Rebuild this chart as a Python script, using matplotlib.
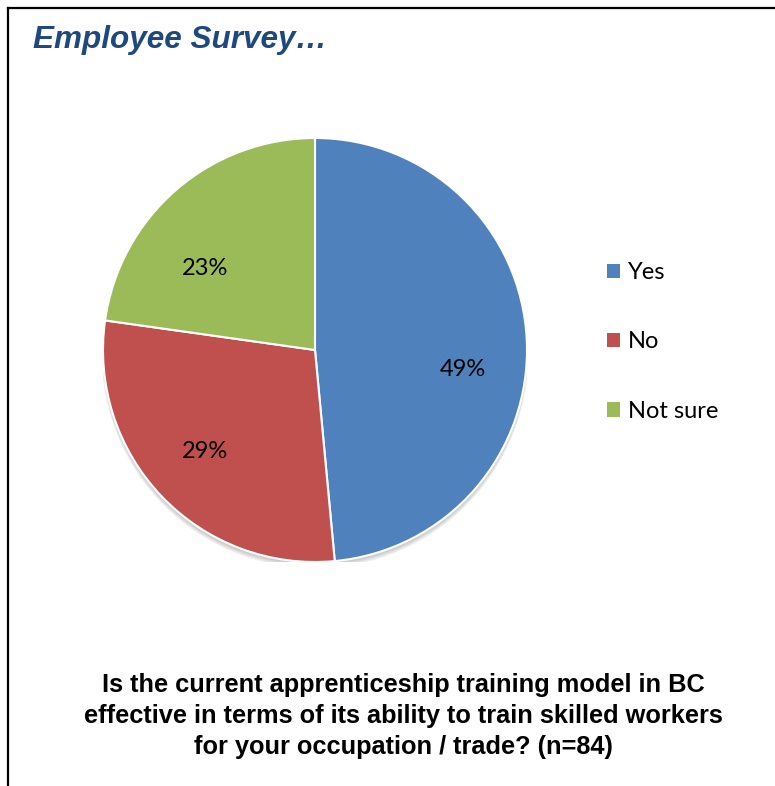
import matplotlib
matplotlib.use("Agg")
import matplotlib.pyplot as plt
import numpy as np
from matplotlib.lines import Line2D
from matplotlib.patches import Circle

# Survey responses (percent)
categories = ["Yes", "No", "Not sure"]
shares = [49, 29, 23]
colors = ["#4F81BD", "#C0504D", "#9BBB59"]

title_text = "Employee Survey…"
question_text = ("Is the current apprenticeship training model in BC\n"
                 "effective in terms of its ability to train skilled workers\n"
                 "for your occupation / trade? (n=84)")

W, H = 775, 786
fig = plt.figure(figsize=(W / 100, H / 100), dpi=100)
fig.patch.set_facecolor("white")

# frame: top and left rules
fig.add_artist(Line2D([8 / W, 1.0], [1 - 8 / H, 1 - 8 / H], color="black", lw=1.6))
fig.add_artist(Line2D([8 / W, 8 / W], [0.0, 1 - 8 / H], color="black", lw=1.6))

fig.text(33 / W, 1 - 40 / H, title_text, fontsize=22.7, fontweight="bold",
         fontstyle="italic", color="#1F497D", family="Liberation Sans",
         va="center", ha="left")

# pie axes
cx, cy, r = 315, 350, 212
ax = fig.add_axes([(cx - r) / W, (H - cy - r) / H, 2 * r / W, 2 * r / H])
ax.axis("off")

# soft drop shadow under the pie
for i, a in enumerate([0.05, 0.05, 0.05, 0.06]):
    ax.add_patch(Circle((0, -0.012 - 0.004 * i), 1.0 + 0.002 * i, color="black",
                        alpha=a, lw=0, zorder=0))

wedges, texts = ax.pie(
    shares, colors=colors, startangle=90, counterclock=False, radius=1.0,
    wedgeprops=dict(edgecolor="white", linewidth=1.5), frame=False)

# percentage labels from the stated values, nudged in pixels
label_nudge = [(4, -26), (-6, -2), (-15, -27)]
for w, v, (dx, dy) in zip(wedges, shares, label_nudge):
    mid = np.deg2rad((w.theta1 + w.theta2) / 2)
    ax.annotate(f"{v}%", (0.68 * np.cos(mid), 0.68 * np.sin(mid)),
                xytext=(dx, dy), textcoords="offset pixels",
                ha="center", va="center", fontsize=17, family="Lato",
                color="black", zorder=5)
ax.set_xlim(-1.0, 1.0)
ax.set_ylim(-1.0, 1.0)
ax.set_aspect("equal")

leg = ax.legend(wedges, categories, loc="upper left",
                bbox_to_anchor=(607 / W, 1 - 262 / H), bbox_transform=fig.transFigure,
                frameon=False, prop={"family": "Lato", "size": 17},
                handlelength=0.55, handleheight=0.55, handletextpad=0.32,
                labelspacing=2.05, borderaxespad=0, borderpad=0)
for h in leg.legend_handles:
    h.set_edgecolor("none")

fig.text(403 / W, 1 - 716 / H, question_text, ha="center", va="center",
         fontsize=18.3, fontweight="bold", family="Liberation Sans",
         linespacing=1.37, color="black")

fig.savefig("out.png", dpi=100, facecolor="white")
